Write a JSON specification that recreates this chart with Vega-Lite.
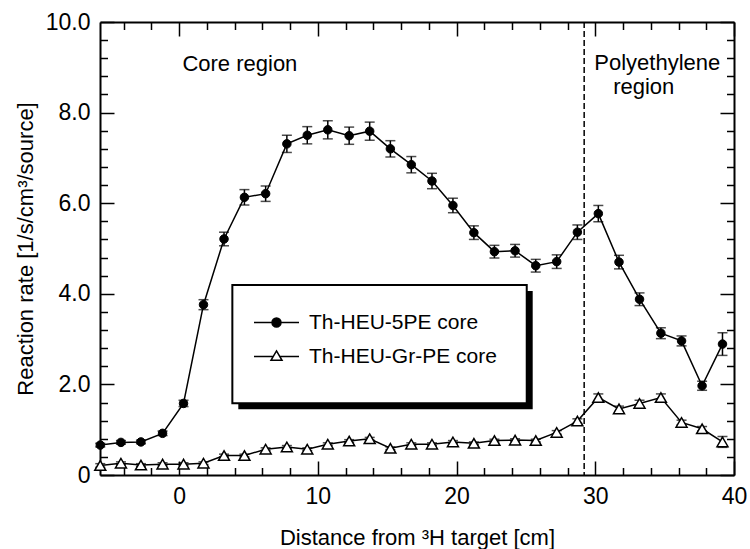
{
  "$schema": "https://vega.github.io/schema/vega-lite/v6.json",
  "width": 634,
  "height": 453,
  "autosize": {"type": "none"},
  "padding": {"left": 100, "top": 22, "right": 16, "bottom": 74},
  "background": "white",
  "config": {
    "font": "Liberation Sans",
    "view": {"stroke": null},
    "axis": {"grid": false, "tickColor": "black", "domainColor": "black", "labelColor": "black", "titleColor": "black", "labelFont": "Liberation Sans", "titleFont": "Liberation Sans"}
  },
  "datasets": {
    "rates": [
      {"series": "Th-HEU-5PE core", "x": -5.68, "y": 0.66, "err": 0.04},
      {"series": "Th-HEU-5PE core", "x": -4.19, "y": 0.72, "err": 0.04},
      {"series": "Th-HEU-5PE core", "x": -2.75, "y": 0.73, "err": 0.04},
      {"series": "Th-HEU-5PE core", "x": -1.19, "y": 0.92, "err": 0.05},
      {"series": "Th-HEU-5PE core", "x": 0.32, "y": 1.58, "err": 0.07},
      {"series": "Th-HEU-5PE core", "x": 1.76, "y": 3.76, "err": 0.11},
      {"series": "Th-HEU-5PE core", "x": 3.24, "y": 5.21, "err": 0.15},
      {"series": "Th-HEU-5PE core", "x": 4.71, "y": 6.13, "err": 0.17},
      {"series": "Th-HEU-5PE core", "x": 6.24, "y": 6.21, "err": 0.17},
      {"series": "Th-HEU-5PE core", "x": 7.77, "y": 7.31, "err": 0.19},
      {"series": "Th-HEU-5PE core", "x": 9.24, "y": 7.5, "err": 0.19},
      {"series": "Th-HEU-5PE core", "x": 10.72, "y": 7.62, "err": 0.2},
      {"series": "Th-HEU-5PE core", "x": 12.26, "y": 7.49, "err": 0.19},
      {"series": "Th-HEU-5PE core", "x": 13.74, "y": 7.59, "err": 0.2},
      {"series": "Th-HEU-5PE core", "x": 15.23, "y": 7.2, "err": 0.18},
      {"series": "Th-HEU-5PE core", "x": 16.74, "y": 6.85, "err": 0.18},
      {"series": "Th-HEU-5PE core", "x": 18.23, "y": 6.49, "err": 0.17},
      {"series": "Th-HEU-5PE core", "x": 19.74, "y": 5.95, "err": 0.16},
      {"series": "Th-HEU-5PE core", "x": 21.25, "y": 5.35, "err": 0.15},
      {"series": "Th-HEU-5PE core", "x": 22.73, "y": 4.93, "err": 0.14},
      {"series": "Th-HEU-5PE core", "x": 24.22, "y": 4.95, "err": 0.14},
      {"series": "Th-HEU-5PE core", "x": 25.71, "y": 4.62, "err": 0.14},
      {"series": "Th-HEU-5PE core", "x": 27.22, "y": 4.71, "err": 0.15},
      {"series": "Th-HEU-5PE core", "x": 28.71, "y": 5.36, "err": 0.16},
      {"series": "Th-HEU-5PE core", "x": 30.22, "y": 5.77, "err": 0.18},
      {"series": "Th-HEU-5PE core", "x": 31.71, "y": 4.7, "err": 0.15},
      {"series": "Th-HEU-5PE core", "x": 33.19, "y": 3.88, "err": 0.14},
      {"series": "Th-HEU-5PE core", "x": 34.73, "y": 3.13, "err": 0.12},
      {"series": "Th-HEU-5PE core", "x": 36.22, "y": 2.96, "err": 0.11},
      {"series": "Th-HEU-5PE core", "x": 37.7, "y": 1.97, "err": 0.1},
      {"series": "Th-HEU-5PE core", "x": 39.17, "y": 2.89, "err": 0.25},
      {"series": "Th-HEU-Gr-PE core", "x": -5.68, "y": 0.21, "err": 0.04},
      {"series": "Th-HEU-Gr-PE core", "x": -4.19, "y": 0.26, "err": 0.03},
      {"series": "Th-HEU-Gr-PE core", "x": -2.75, "y": 0.22, "err": 0.03},
      {"series": "Th-HEU-Gr-PE core", "x": -1.19, "y": 0.24, "err": 0.03},
      {"series": "Th-HEU-Gr-PE core", "x": 0.32, "y": 0.24, "err": 0.03},
      {"series": "Th-HEU-Gr-PE core", "x": 1.76, "y": 0.26, "err": 0.03},
      {"series": "Th-HEU-Gr-PE core", "x": 3.24, "y": 0.43, "err": 0.03},
      {"series": "Th-HEU-Gr-PE core", "x": 4.71, "y": 0.43, "err": 0.03},
      {"series": "Th-HEU-Gr-PE core", "x": 6.24, "y": 0.57, "err": 0.03},
      {"series": "Th-HEU-Gr-PE core", "x": 7.77, "y": 0.62, "err": 0.03},
      {"series": "Th-HEU-Gr-PE core", "x": 9.24, "y": 0.57, "err": 0.03},
      {"series": "Th-HEU-Gr-PE core", "x": 10.72, "y": 0.68, "err": 0.03},
      {"series": "Th-HEU-Gr-PE core", "x": 12.26, "y": 0.75, "err": 0.03},
      {"series": "Th-HEU-Gr-PE core", "x": 13.74, "y": 0.8, "err": 0.03},
      {"series": "Th-HEU-Gr-PE core", "x": 15.23, "y": 0.59, "err": 0.03},
      {"series": "Th-HEU-Gr-PE core", "x": 16.74, "y": 0.68, "err": 0.03},
      {"series": "Th-HEU-Gr-PE core", "x": 18.23, "y": 0.68, "err": 0.03},
      {"series": "Th-HEU-Gr-PE core", "x": 19.74, "y": 0.73, "err": 0.03},
      {"series": "Th-HEU-Gr-PE core", "x": 21.25, "y": 0.7, "err": 0.03},
      {"series": "Th-HEU-Gr-PE core", "x": 22.73, "y": 0.76, "err": 0.03},
      {"series": "Th-HEU-Gr-PE core", "x": 24.22, "y": 0.77, "err": 0.03},
      {"series": "Th-HEU-Gr-PE core", "x": 25.71, "y": 0.76, "err": 0.03},
      {"series": "Th-HEU-Gr-PE core", "x": 27.22, "y": 0.94, "err": 0.04},
      {"series": "Th-HEU-Gr-PE core", "x": 28.71, "y": 1.19, "err": 0.05},
      {"series": "Th-HEU-Gr-PE core", "x": 30.22, "y": 1.71, "err": 0.08},
      {"series": "Th-HEU-Gr-PE core", "x": 31.71, "y": 1.46, "err": 0.06},
      {"series": "Th-HEU-Gr-PE core", "x": 33.19, "y": 1.58, "err": 0.07},
      {"series": "Th-HEU-Gr-PE core", "x": 34.73, "y": 1.71, "err": 0.08},
      {"series": "Th-HEU-Gr-PE core", "x": 36.22, "y": 1.16, "err": 0.05},
      {"series": "Th-HEU-Gr-PE core", "x": 37.7, "y": 1.02, "err": 0.05},
      {"series": "Th-HEU-Gr-PE core", "x": 39.17, "y": 0.73, "err": 0.12}
    ]
  },
  "data": {"name": "rates"},
  "layer": [
    {
      "data": {"values": [{}]},
      "mark": {"type": "rect", "fill": "black"},
      "encoding": {
        "x": {"datum": 4.27, "type": "quantitative", "scale": {"domain": [-5.7, 40], "nice": false, "zero": false}, "axis": null},
        "x2": {"datum": 25.49},
        "y": {"datum": 4.064, "type": "quantitative", "scale": {"domain": [0, 10], "nice": false}, "axis": null},
        "y2": {"datum": 1.451}
      }
    },
    {
      "data": {"values": [{}]},
      "mark": {"type": "rect", "fill": "white", "stroke": "black", "strokeWidth": 2},
      "encoding": {
        "x": {"datum": 3.84, "type": "quantitative", "scale": {"domain": [-5.7, 40], "nice": false, "zero": false}, "axis": null},
        "x2": {"datum": 25.06},
        "y": {"datum": 4.197, "type": "quantitative", "scale": {"domain": [0, 10], "nice": false}, "axis": null},
        "y2": {"datum": 1.584}
      }
    },
    {
      "data": {"values": [{}]},
      "mark": {"type": "rule", "strokeDash": [6, 3], "strokeWidth": 1.5, "color": "black"},
      "encoding": {
        "x": {"datum": 29.2, "type": "quantitative", "scale": {"domain": [-5.7, 40], "nice": false, "zero": false}, "axis": null}
      }
    },
    {
      "mark": {"type": "errorbar", "color": "black", "ticks": {"size": 10, "thickness": 1.5}, "rule": {"strokeWidth": 1.5}},
      "encoding": {
        "x": {"field": "x", "type": "quantitative", "scale": {"domain": [-5.7, 40], "nice": false, "zero": false}, "axis": null},
        "y": {"field": "y", "type": "quantitative", "scale": {"domain": [0, 10], "nice": false}, "axis": null},
        "yError": {"field": "err"}
      }
    },
    {
      "mark": {"type": "line", "color": "black", "strokeWidth": 1.5},
      "encoding": {
        "x": {"field": "x", "type": "quantitative", "scale": {"domain": [-5.7, 40], "nice": false, "zero": false},
          "axis": {"orient": "bottom", "values": [0, 10, 20, 30, 40], "format": "d", "tickSize": -14, "tickWidth": 1.5, "domainWidth": 2, "labelPadding": 24, "labelFontSize": 23, "labelFlush": false, "labelOverlap": false, "title": "Distance from ³H target [cm]", "titleFontSize": 22, "titleFontWeight": "normal", "titlePadding": 19}},
        "y": {"field": "y", "type": "quantitative", "scale": {"domain": [0, 10], "nice": false},
          "axis": {"orient": "left", "values": [0, 2, 4, 6, 8, 10], "labelExpr": "datum.value == 0 ? '0' : format(datum.value, '.1f')", "tickSize": -14, "tickWidth": 1.5, "domainWidth": 2, "labelPadding": 24, "labelFontSize": 23, "labelFlush": false, "labelOverlap": false, "title": "Reaction rate [1/s/cm³/source]", "titleFontSize": 22, "titleFontWeight": "normal", "titlePadding": 8}},
        "detail": {"field": "series"}
      }
    },
    {
      "transform": [{"filter": "datum.series == 'Th-HEU-5PE core'"}],
      "mark": {"type": "point", "shape": "circle", "size": 72, "filled": true, "fill": "black", "stroke": "black", "strokeWidth": 1, "opacity": 1},
      "encoding": {
        "x": {"field": "x", "type": "quantitative", "scale": {"domain": [-5.7, 40], "nice": false, "zero": false}, "axis": null},
        "y": {"field": "y", "type": "quantitative", "scale": {"domain": [0, 10], "nice": false}, "axis": null}
      }
    },
    {
      "transform": [{"filter": "datum.series == 'Th-HEU-Gr-PE core'"}],
      "mark": {"type": "point", "shape": "triangle-up", "size": 121, "filled": true, "fill": "white", "stroke": "black", "strokeWidth": 1.5, "opacity": 1},
      "encoding": {
        "x": {"field": "x", "type": "quantitative", "scale": {"domain": [-5.7, 40], "nice": false, "zero": false}, "axis": null},
        "y": {"field": "y", "type": "quantitative", "scale": {"domain": [0, 10], "nice": false}, "axis": null}
      }
    },
    {
      "data": {"values": [{}]},
      "mark": {"type": "text", "text": "Core region", "align": "left", "baseline": "alphabetic", "fontSize": 22, "font": "Liberation Sans", "color": "black"},
      "encoding": {
        "x": {"datum": 0.24, "type": "quantitative", "scale": {"domain": [-5.7, 40], "nice": false, "zero": false}, "axis": null},
        "y": {"datum": 8.91, "type": "quantitative", "scale": {"domain": [0, 10], "nice": false}, "axis": null}
      }
    },
    {
      "data": {"values": [{}]},
      "mark": {"type": "text", "text": "Polyethylene", "align": "left", "baseline": "alphabetic", "fontSize": 22, "font": "Liberation Sans", "color": "black"},
      "encoding": {
        "x": {"datum": 29.93, "type": "quantitative", "scale": {"domain": [-5.7, 40], "nice": false, "zero": false}, "axis": null},
        "y": {"datum": 8.93, "type": "quantitative", "scale": {"domain": [0, 10], "nice": false}, "axis": null}
      }
    },
    {
      "data": {"values": [{}]},
      "mark": {"type": "text", "text": "region", "align": "left", "baseline": "alphabetic", "fontSize": 22, "font": "Liberation Sans", "color": "black"},
      "encoding": {
        "x": {"datum": 31.29, "type": "quantitative", "scale": {"domain": [-5.7, 40], "nice": false, "zero": false}, "axis": null},
        "y": {"datum": 8.4, "type": "quantitative", "scale": {"domain": [0, 10], "nice": false}, "axis": null}
      }
    },
    {
      "mark": {"type": "point", "opacity": 0},
      "encoding": {
        "x": {"field": "x", "type": "quantitative", "scale": {"domain": [-5.7, 40], "nice": false, "zero": false},
          "axis": {"orient": "bottom", "values": [-4, -2, 2, 4, 6, 8, 12, 14, 16, 18, 22, 24, 26, 28, 32, 34, 36, 38], "tickSize": -7.5, "tickWidth": 1.5, "labels": false, "domain": false, "title": null}},
        "y": {"field": "y", "type": "quantitative", "scale": {"domain": [0, 10], "nice": false},
          "axis": {"orient": "left", "values": [0.4, 0.8, 1.2, 1.6, 2.4, 2.8, 3.2, 3.6, 4.4, 4.8, 5.2, 5.6, 6.4, 6.8, 7.2, 7.6, 8.4, 8.8, 9.2, 9.6], "tickSize": -7.5, "tickWidth": 1.5, "labels": false, "domain": false, "title": null}}
      }
    },
    {
      "mark": {"type": "point", "opacity": 0},
      "encoding": {
        "x": {"field": "x", "type": "quantitative", "scale": {"domain": [-5.7, 40], "nice": false, "zero": false},
          "axis": {"orient": "top", "values": [0, 10, 20, 30, 40], "tickSize": -14, "tickWidth": 1.5, "domainWidth": 2, "labels": false, "title": null}},
        "y": {"field": "y", "type": "quantitative", "scale": {"domain": [0, 10], "nice": false},
          "axis": {"orient": "right", "values": [0, 2, 4, 6, 8, 10], "tickSize": -14, "tickWidth": 1.5, "domainWidth": 2, "labels": false, "title": null}}
      }
    },
    {
      "mark": {"type": "point", "opacity": 0},
      "encoding": {
        "x": {"field": "x", "type": "quantitative", "scale": {"domain": [-5.7, 40], "nice": false, "zero": false},
          "axis": {"orient": "top", "values": [-4, -2, 2, 4, 6, 8, 12, 14, 16, 18, 22, 24, 26, 28, 32, 34, 36, 38], "tickSize": -7.5, "tickWidth": 1.5, "labels": false, "domain": false, "title": null}},
        "y": {"field": "y", "type": "quantitative", "scale": {"domain": [0, 10], "nice": false},
          "axis": {"orient": "right", "values": [0.4, 0.8, 1.2, 1.6, 2.4, 2.8, 3.2, 3.6, 4.4, 4.8, 5.2, 5.6, 6.4, 6.8, 7.2, 7.6, 8.4, 8.8, 9.2, 9.6], "tickSize": -7.5, "tickWidth": 1.5, "labels": false, "domain": false, "title": null}}
      }
    },
    {
      "mark": {"type": "point", "opacity": 0, "strokeWidth": 1.5},
      "encoding": {
        "x": {"field": "x", "type": "quantitative", "scale": {"domain": [-5.7, 40], "nice": false, "zero": false}, "axis": null},
        "y": {"field": "y", "type": "quantitative", "scale": {"domain": [0, 10], "nice": false}, "axis": null},
        "shape": {"field": "series", "type": "nominal",
          "scale": {"domain": ["Th-HEU-5PE core", "Th-HEU-Gr-PE core"], "range": ["M-1,0L1,0M-0.2,0A0.2,0.2,0,1,1,0.2,0A0.2,0.2,0,1,1,-0.2,0Z", "M-1,0L-0.146,0M0.146,0L1,0M0,-0.25L0.245,0.17L-0.245,0.17Z"]},
          "legend": {"title": null, "orient": "none", "legendX": 153, "legendY": 277, "padding": 0, "symbolSize": 2025, "symbolStrokeWidth": 1.5, "symbolOpacity": 1, "labelFont": "Liberation Sans", "labelFontSize": 21, "labelColor": "black", "labelOffset": 9, "rowPadding": 0, "labelLimit": 0}},
        "fill": {"field": "series", "type": "nominal",
          "scale": {"domain": ["Th-HEU-5PE core", "Th-HEU-Gr-PE core"], "range": ["black", "white"]},
          "legend": {"title": null, "orient": "none", "legendX": 153, "legendY": 277, "padding": 0, "symbolSize": 2025, "symbolStrokeWidth": 1.5, "symbolOpacity": 1, "labelFont": "Liberation Sans", "labelFontSize": 21, "labelColor": "black", "labelOffset": 9, "rowPadding": 0, "labelLimit": 0}},
        "stroke": {"field": "series", "type": "nominal",
          "scale": {"domain": ["Th-HEU-5PE core", "Th-HEU-Gr-PE core"], "range": ["black", "black"]},
          "legend": {"title": null, "orient": "none", "legendX": 153, "legendY": 277, "padding": 0, "symbolSize": 2025, "symbolStrokeWidth": 1.5, "symbolOpacity": 1, "labelFont": "Liberation Sans", "labelFontSize": 21, "labelColor": "black", "labelOffset": 9, "rowPadding": 0, "labelLimit": 0}}
      }
    }
  ],
  "resolve": {"axis": {"x": "independent", "y": "independent"}}
}
